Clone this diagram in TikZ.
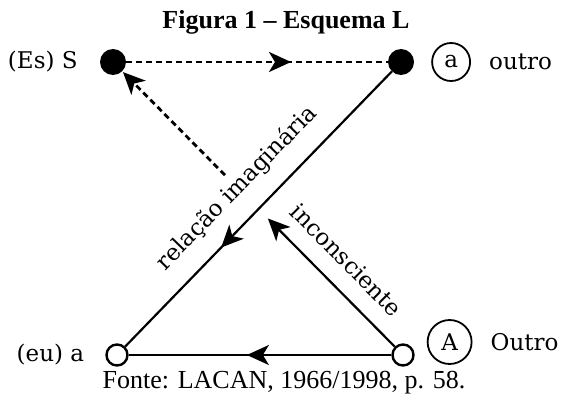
\documentclass[tikz,border=0pt]{standalone}
\usepackage{fontspec}
\setmainfont{Liberation Serif}
\newfontfamily\labelfont{DejaVu Serif}
\usepackage{tikz}
\usetikzlibrary{arrows.meta,positioning,calc,decorations.markings}
\tikzstyle{dotNode}=[circle, fill=black, inner sep=0pt, minimum size=26pt]
\tikzstyle{ringNode}=[circle, draw=black, line width=2.4pt, fill=white, inner sep=0pt, minimum size=21pt]
\tikzstyle{tagNode}=[circle, draw=black, line width=1.8pt, inner sep=0pt,
  font=\labelfont\fontsize{23}{26}\selectfont]
\tikzstyle{nameNode}=[inner sep=0pt, font=\labelfont\fontsize{23}{26}\selectfont]
\tikzstyle{captionNode}=[inner sep=0pt, anchor=base, font=\fontsize{26}{30}\selectfont]
\tikzstyle{lineSolid}=[line width=2.2pt]
\tikzstyle{lineDash}=[line width=2.8pt, dash pattern=on 6pt off 4pt]
\tikzstyle{midArr}=[postaction={decorate},
  decoration={markings, mark=at position #1 with {\arrow{>}}}]

\begin{document}
\begin{tikzpicture}[x=1pt, y=-1pt, >={Stealth[length=22pt, width=20pt, inset=6pt]}]
\useasboundingbox (0,0) rectangle (561,398);
\node[captionNode, font=\bfseries\fontsize{26}{30}\selectfont] (title) at (286,29) {Figura 1 – Esquema L};
\node[dotNode] (sDot) at (113,62) {};
\node[dotNode] (aDot) at (401,62) {};
\node[ringNode] (euRing) at (117,355) {};
\node[ringNode] (bigARing) at (403,355) {};
\node[nameNode, left=22pt of sDot] (esLabel) {(Es) S};
\node[tagNode, minimum size=38pt, right=17pt of aDot] (aTag) {a};
\node[nameNode, right=18pt of aTag] (outroLabel) {outro};
\node[nameNode, left=21pt of euRing] (euLabel) {(eu) a};
\node[tagNode, minimum size=44pt, right=12pt of bigARing, yshift=13pt] (bigATag) {A};
\node[nameNode, right=18pt of bigATag] (OutroLabel) {Outro};
\node[captionNode] (fonte) at (284,388) {Fonte: LACAN, 1966/1998, p. 58.};
% connectors
\coordinate (cutEnd) at ($(bigARing)!0.466!(sDot)$);
\coordinate (cutStart) at ($(bigARing)!0.614!(sDot)$);
\draw[lineDash, midArr=0.63] (sDot) -- (aDot);
\draw[lineSolid, midArr=0.64] (aDot) -- node[nameNode, sloped, above=17pt] {relação imaginária} (euRing);
\draw[lineSolid, midArr=0.55] (bigARing) -- (euRing);
\draw[lineSolid, ->] (bigARing) -- node[nameNode, sloped, above=17pt, pos=0.53] {inconsciente} (cutEnd);
\draw[lineDash, ->, shorten >=1pt] (cutStart) -- (sDot);
\end{tikzpicture}
\end{document}
